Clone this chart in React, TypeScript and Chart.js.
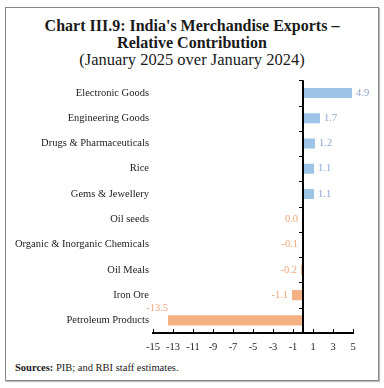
import React, { useEffect, useRef } from "react";
import { Chart, registerables } from "chart.js";
Chart.register(...registerables);

const categories = [
  "Electronic Goods",
  "Engineering Goods",
  "Drugs & Pharmaceuticals",
  "Rice",
  "Gems & Jewellery",
  "Oil seeds",
  "Organic & Inorganic Chemicals",
  "Oil Meals",
  "Iron Ore",
  "Petroleum Products",
];
const contributions = [4.9, 1.7, 1.2, 1.1, 1.1, 0.0, -0.1, -0.2, -1.1, -13.5];
const xTicks = [-15, -13, -11, -9, -7, -5, -3, -1, 1, 3, 5];

const POS_BAR = "#9dc3e6";
const NEG_BAR = "#f4b183";
const POS_LABEL = "#8ea9cf";
const NEG_LABEL = "#f2a77a";
const FONT = "'Liberation Serif', 'Times New Roman', serif";

const decoPlugin = {
  id: "deco",
  afterDatasetsDraw(chart: any) {
    const { ctx, chartArea, scales } = chart;
    const x = scales.x;
    const zx = x.getPixelForValue(0);
    ctx.save();
    ctx.strokeStyle = "#000";
    ctx.lineWidth = 2;
    ctx.beginPath();
    ctx.moveTo(zx, chartArea.top);
    ctx.lineTo(zx, chartArea.bottom);
    ctx.stroke();
    ctx.lineWidth = 1;
    ctx.beginPath();
    const n = categories.length;
    const step = (chartArea.bottom - chartArea.top) / n;
    for (let i = 0; i <= n; i++) {
      const yy = Math.round(chartArea.top + i * step) + 0.5;
      ctx.moveTo(zx - 4, yy);
      ctx.lineTo(zx, yy);
    }
    xTicks.forEach((v) => {
      const px = Math.round(x.getPixelForValue(v)) + 0.5;
      ctx.moveTo(px, chartArea.bottom);
      ctx.lineTo(px, chartArea.bottom - 4);
    });
    ctx.stroke();

    const meta = chart.getDatasetMeta(0);
    ctx.font = `10.5px ${FONT}`;
    ctx.textBaseline = "middle";
    meta.data.forEach((bar: any, i: number) => {
      const v = contributions[i];
      const text = v.toFixed(1);
      if (v > 0) {
        ctx.fillStyle = POS_LABEL;
        ctx.textAlign = "left";
        ctx.fillText(text, bar.x + 4, bar.y);
      } else {
        ctx.fillStyle = NEG_LABEL;
        ctx.textAlign = "right";
        const end = Math.min(bar.x, zx - 1);
        const w = ctx.measureText(text).width;
        if (end - 4 - w < chartArea.left) {
          ctx.fillText(text, end, bar.y - 12);
        } else {
          ctx.fillText(text, end - 4, bar.y);
        }
      }
    });
    ctx.restore();
  },
};

function ChartView() {
  const ref = useRef<HTMLCanvasElement>(null);
  useEffect(() => {
    if (!ref.current) return;
    const chart = new Chart(ref.current, {
      type: "bar",
      data: {
        labels: categories,
        datasets: [
          {
            data: contributions,
            backgroundColor: contributions.map((v) => (v > 0 ? POS_BAR : NEG_BAR)),
            borderWidth: 0,
            categoryPercentage: 0.8,
            barPercentage: 0.5,
          },
        ],
      },
      options: {
        indexAxis: "y",
        animation: false,
        responsive: false,
        maintainAspectRatio: false,
        layout: { padding: { top: 8, right: 25, left: 0, bottom: 0 } },
        plugins: { legend: { display: false }, tooltip: { enabled: false }, title: { display: false } },
        scales: {
          x: {
            min: -15,
            max: 5,
            afterBuildTicks: (s: any) => {
              s.ticks = xTicks.map((v) => ({ value: v }));
            },
            afterFit: (s: any) => {
              s.height = 27;
            },
            grid: { display: false, drawTicks: false },
            border: { display: true, color: "#000", width: 2 },
            ticks: {
              padding: 8,
              color: "#222",
              font: { family: FONT, size: 10.5 },
              maxRotation: 0,
              autoSkip: false,
            },
          },
          y: {
            afterFit: (s: any) => {
              s.width = 147;
            },
            grid: { display: false, drawTicks: false },
            border: { display: false },
            ticks: {
              padding: 4,
              color: "#222",
              font: { family: FONT, size: 10.5 },
              autoSkip: false,
            },
          },
        },
      },
      plugins: [decoPlugin],
    } as any);
    return () => chart.destroy();
  }, []);
  return (
    <canvas
      ref={ref}
      width={372}
      height={290}
      style={{ position: "absolute", left: 0, top: 62, width: 372, height: 290 }}
    />
  );
}

export default function App() {
  const titleStyle: React.CSSProperties = {
    position: "absolute",
    left: 0,
    width: 372,
    textAlign: "center",
    fontFamily: FONT,
    color: "#1a1a1a",
    fontSize: 16,
    lineHeight: "18px",
    whiteSpace: "nowrap",
  };
  return (
    <div
      style={{
        position: "absolute",
        left: 5,
        top: 7,
        width: 372,
        height: 372,
        border: "1px solid #888",
        boxShadow: "1px 1px 1px #bbb",
        background: "#fff",
      }}
    >
      <div style={{ ...titleStyle, top: 9, fontWeight: "bold" }}>
        Chart III.9: India's Merchandise Exports –
      </div>
      <div style={{ ...titleStyle, top: 26, fontWeight: "bold" }}>Relative Contribution</div>
      <div style={{ ...titleStyle, top: 43, fontSize: 16.5 }}>(January 2025 over January 2024)</div>
      <ChartView />
      <div
        style={{
          position: "absolute",
          left: 9,
          top: 354,
          fontFamily: FONT,
          fontSize: 10.5,
          lineHeight: "12px",
          color: "#1a1a1a",
        }}
      >
        <b>Sources:</b> PIB; and RBI staff estimates.
      </div>
    </div>
  );
}
